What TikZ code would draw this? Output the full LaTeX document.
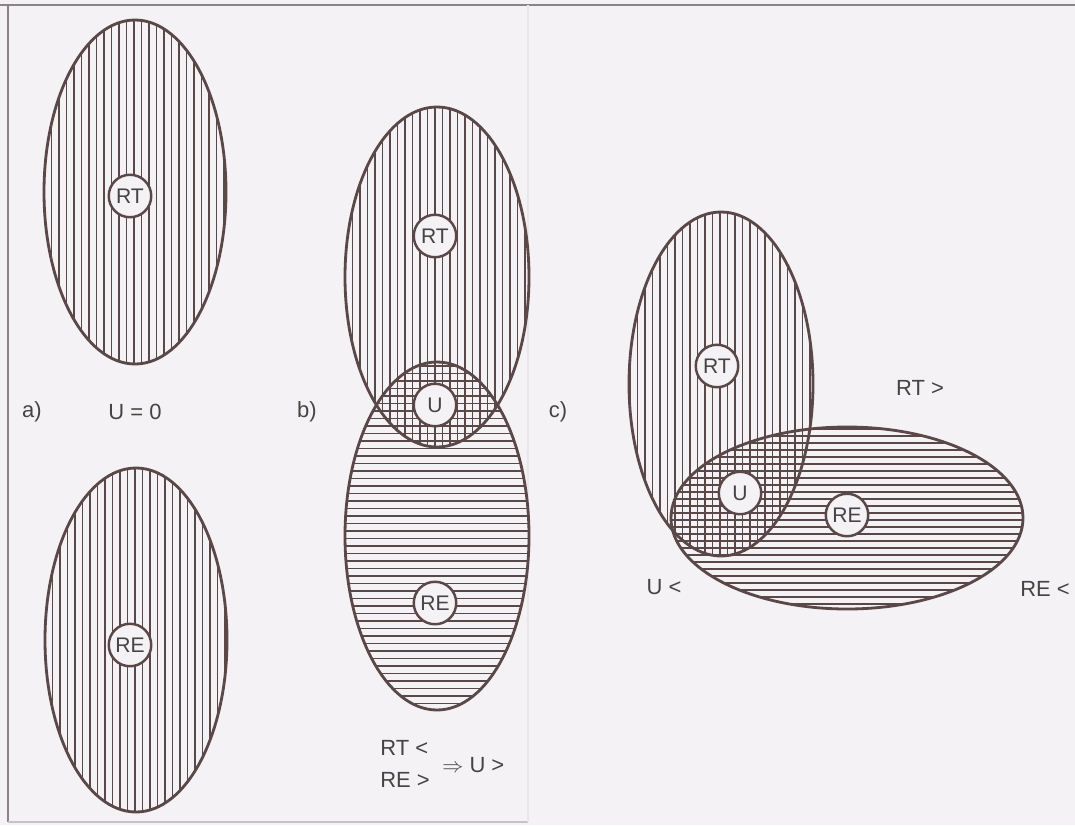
\documentclass[tikz,border=0pt]{standalone}
\usepackage{fontspec}
\setmainfont{Liberation Sans}
\usepackage{tikz}
\usetikzlibrary{positioning}
\usepackage{xcolor}
\definecolor{InkBrown}{HTML}{5A4748}
\definecolor{PaperGray}{HTML}{F4F2F4}
\definecolor{TextGray}{HTML}{474343}
\definecolor{FrameGray}{HTML}{8C8289}

\begin{document}
\begin{tikzpicture}[x=0.02cm, y=-0.02cm,
    outline/.style={draw=InkBrown, line width=1.6pt},
    hatchline/.style={draw=InkBrown, line width=0.75pt},
    setcirc/.style={circle, draw=InkBrown, line width=1.4pt, fill=PaperGray, minimum size=0.85cm, inner sep=0pt, font=\fontsize{12}{14}\selectfont, text=TextGray},
    lbl/.style={font=\fontsize{12.5}{15}\selectfont, text=TextGray, inner sep=0pt}
  ]
    \fill[PaperGray] (0,0) rectangle (1075,825);
    \useasboundingbox (0,0) rectangle (1075,825);
    % scan frame
    \draw[FrameGray, line width=1.2pt] (0,5) -- (1075,5);
    \draw[FrameGray, line width=0.9pt] (8,5) -- (8,822);
    \draw[FrameGray!50, line width=0.6pt] (8,822) -- (528,822);
    \draw[FrameGray!20, line width=0.6pt] (528,5) -- (528,822);

    % a) two separate sets
    \begin{scope}
      \clip (135,192) ellipse [x radius=91, y radius=172];
      \foreach \x in {44,51.5,...,228} \draw[hatchline] (\x,18) -- (\x,366);
    \end{scope}
    \begin{scope}
      \clip (136,640) ellipse [x radius=91, y radius=172];
      \foreach \x in {45,52.5,...,229} \draw[hatchline] (\x,466) -- (\x,814);
    \end{scope}
    \draw[outline] (135,192) ellipse [x radius=91, y radius=172];
    \draw[outline] (136,640) ellipse [x radius=91, y radius=172];

    % b) small overlap
    \begin{scope}
      \clip (437,277) ellipse [x radius=92, y radius=170];
      \foreach \x in {345,352.5,...,530} \draw[hatchline] (\x,105) -- (\x,449);
    \end{scope}
    \begin{scope}
      \clip (437,536) ellipse [x radius=92, y radius=174];
      \foreach \y in {366,373.5,...,712} \draw[hatchline] (343,\y) -- (531,\y);
    \end{scope}
    \draw[outline] (437,277) ellipse [x radius=92, y radius=170];
    \draw[outline] (437,536) ellipse [x radius=92, y radius=174];

    % c) large overlap
    \begin{scope}
      \clip (721,384) ellipse [x radius=92, y radius=172];
      \foreach \x in {630,637.5,...,815} \draw[hatchline] (\x,210) -- (\x,558);
    \end{scope}
    \begin{scope}
      \clip (847,518) ellipse [x radius=176, y radius=91];
      \foreach \y in {429,436,...,611} \draw[hatchline] (669,\y) -- (1025,\y);
    \end{scope}
    \draw[outline] (721,384) ellipse [x radius=92, y radius=172];
    \draw[outline] (847,518) ellipse [x radius=176, y radius=91];

    % set markers
    \node[setcirc] (aRT) at (130,196) {RT};
    \node[setcirc] (aRE) at (130,645) {RE};
    \node[setcirc] (bRT) at (435,236) {RT};
    \node[setcirc] (bU) at (435,405) {U};
    \node[setcirc] (bRE) at (435,603) {RE};
    \node[setcirc] (cRT) at (717,366) {RT};
    \node[setcirc] (cU) at (740,493) {U};
    \node[setcirc] (cRE) at (847,515) {RE};

    % labels
    \node[lbl] (alab) at (32,412) {a)};
    \node[lbl] (uzero) at (135,412) {U = 0};
    \node[lbl] (blab) at (307,412) {b)};
    \node[lbl, anchor=west] (rtless) at (380,748) {RT <};
    \node[lbl, anchor=west] (remore) at (380,780) {RE >};
    \node[lbl, anchor=west] (umore) at (442,765) {$\Rightarrow$ U >};
    \node[lbl] (clab) at (558,412) {c)};
    \node[lbl] (rtmore) at (920,388) {RT >};
    \node[lbl] (uless) at (664,587) {U <};
    \node[lbl] (reless) at (1045,589) {RE <};
  \end{tikzpicture}
\end{document}
